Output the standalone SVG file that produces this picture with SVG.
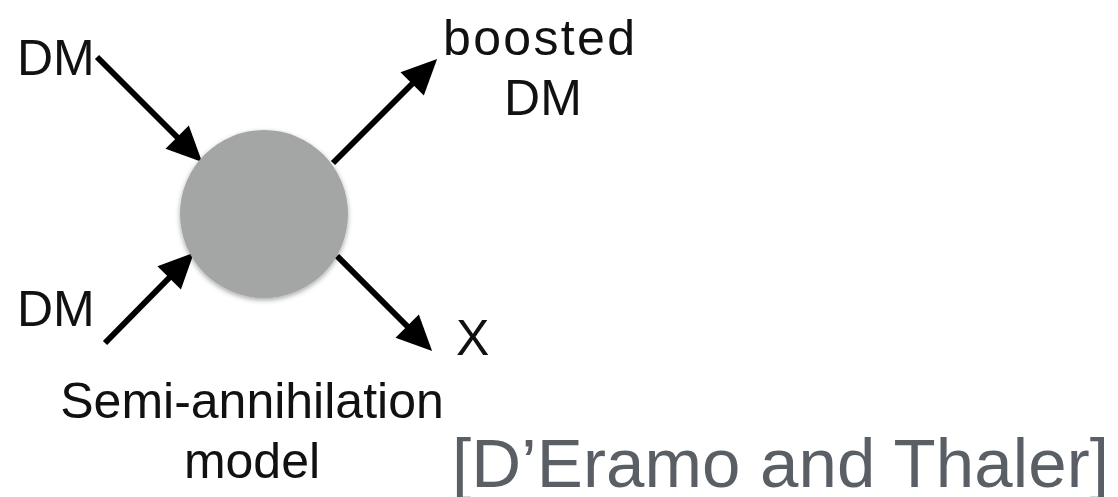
<svg xmlns="http://www.w3.org/2000/svg" width="1118" height="497" viewBox="0 0 1118 497">
<style>
.lbl{font-family:"Liberation Sans",Arial,sans-serif;font-size:50px;fill:#111;}
.ref{font-family:"Liberation Sans",Arial,sans-serif;font-size:69px;fill:#5a5f66;}
.arr{stroke:#000;stroke-width:6;fill:none;marker-end:url(#ah);}
</style>
<defs>
<marker id="ah" markerUnits="userSpaceOnUse" markerWidth="40" markerHeight="40" viewBox="-2 -16 34 32" refX="0" refY="0" orient="auto">
<path d="M-1,-14 L29,0 L-1,14 z" fill="#000"/>
</marker>
<filter id="sh" x="-20%" y="-20%" width="140%" height="140%">
<feDropShadow dx="0" dy="2" stdDeviation="2.5" flood-color="#000" flood-opacity="0.35"/>
</filter>
</defs>
<rect width="1118" height="497" fill="#fff"/>
<g id="connectors">
<line class="arr" x1="97" y1="57" x2="178" y2="138"/>
<line class="arr" x1="333" y1="163" x2="413" y2="83"/>
<line class="arr" x1="105" y1="343" x2="170" y2="277"/>
<line class="arr" x1="337" y1="256" x2="408" y2="327"/>
</g>
<g id="vertex">
<circle cx="264" cy="214" r="84" fill="#a4a6a5" filter="url(#sh)"/>
</g>
<g id="dm-in-top"><text class="lbl" x="17" y="75">DM</text></g>
<g id="dm-in-bottom"><text class="lbl" x="17" y="326">DM</text></g>
<g id="boosted-dm">
<text class="lbl" x="443" y="55" textLength="192" lengthAdjust="spacing">boosted</text>
<text class="lbl" x="543" y="115" text-anchor="middle">DM</text>
</g>
<g id="x-out"><text class="lbl" x="456" y="355">X</text></g>
<g id="caption">
<text class="lbl" x="252" y="418" text-anchor="middle">Semi-annihilation</text>
<text class="lbl" x="252" y="478" text-anchor="middle">model</text>
</g>
<g id="reference"><text class="ref" x="452" y="487" textLength="657" lengthAdjust="spacing">[D’Eramo and Thaler]</text></g>
</svg>
